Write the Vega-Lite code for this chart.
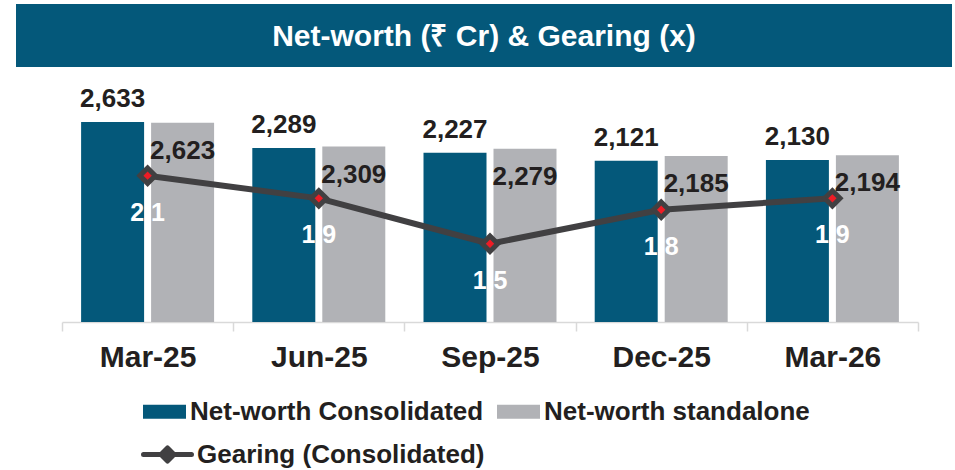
{
  "$schema": "https://vega.github.io/schema/vega-lite/v6.json",
  "padding": {"left": 16, "top": 4, "right": 0, "bottom": 0},
  "spacing": 27,
  "bounds": "flush",
  "config": {
    "font": "Liberation Sans",
    "view": {"stroke": null}
  },
  "datasets": {
    "nw": [
      {"q": "Mar-25", "series": "Net-worth Consolidated", "value": 2633},
      {"q": "Mar-25", "series": "Net-worth standalone", "value": 2623},
      {"q": "Jun-25", "series": "Net-worth Consolidated", "value": 2289},
      {"q": "Jun-25", "series": "Net-worth standalone", "value": 2309},
      {"q": "Sep-25", "series": "Net-worth Consolidated", "value": 2227},
      {"q": "Sep-25", "series": "Net-worth standalone", "value": 2279},
      {"q": "Dec-25", "series": "Net-worth Consolidated", "value": 2121},
      {"q": "Dec-25", "series": "Net-worth standalone", "value": 2185},
      {"q": "Mar-26", "series": "Net-worth Consolidated", "value": 2130},
      {"q": "Mar-26", "series": "Net-worth standalone", "value": 2194}
    ],
    "gear": [
      {"q": "Mar-25", "s": "Gearing (Consolidated)", "gearing": 2.1},
      {"q": "Jun-25", "s": "Gearing (Consolidated)", "gearing": 1.9},
      {"q": "Sep-25", "s": "Gearing (Consolidated)", "gearing": 1.5},
      {"q": "Dec-25", "s": "Gearing (Consolidated)", "gearing": 1.8},
      {"q": "Mar-26", "s": "Gearing (Consolidated)", "gearing": 1.9}
    ],
    "title": [{"t": "Net-worth (₹ Cr) & Gearing (x)"}]
  },
  "vconcat": [
    {
      "width": 936,
      "height": 63,
      "view": {"fill": "#04587a", "stroke": null},
      "data": {"name": "title"},
      "mark": {"type": "text", "color": "#ffffff", "fontSize": 30, "fontWeight": "bold", "baseline": "middle", "align": "center", "dy": 1},
      "encoding": {"text": {"field": "t", "type": "nominal"}}
    },
    {
      "width": 936,
      "height": 228,
      "encoding": {
        "x": {
          "field": "q",
          "type": "nominal",
          "sort": ["Mar-25", "Jun-25", "Sep-25", "Dec-25", "Mar-26"],
          "scale": {"domain": ["Mar-25", "Jun-25", "Sep-25", "Dec-25", "Mar-26"], "range": [46, 902], "paddingInner": 0, "paddingOuter": 0},
          "axis": {
            "title": null,
            "labelAngle": 0,
            "domainColor": "#d9d9d9",
            "domainWidth": 1.5,
            "tickColor": "#d9d9d9",
            "tickWidth": 1.5,
            "tickSize": 9,
            "tickBand": "extent",
            "labelFontSize": 30,
            "labelFontWeight": "bold",
            "labelColor": "#231f20",
            "labelPadding": 11
          }
        }
      },
      "layer": [
        {
          "data": {"name": "nw"},
          "encoding": {
            "xOffset": {"field": "series", "type": "nominal", "scale": {"domain": ["Net-worth Consolidated", "Net-worth standalone"], "paddingInner": 0.1, "paddingOuter": 0.273}},
            "y": {"field": "value", "type": "quantitative", "scale": {"domain": [0, 3000], "nice": false, "zero": true}, "axis": null}
          },
          "layer": [
            {
              "mark": {"type": "bar"},
              "encoding": {
                "color": {
                  "field": "series",
                  "type": "nominal",
                  "scale": {"domain": ["Net-worth Consolidated", "Net-worth standalone"], "range": ["#04587a", "#b1b2b6"]},
                  "legend": {
                    "title": null,
                    "orient": "none",
                    "legendX": 127,
                    "legendY": 386,
                    "direction": "horizontal",
                    "columns": 2,
                    "symbolType": "M-1,-0.33H1V0.33H-1Z",
                    "symbolSize": 1849,
                    "symbolStrokeWidth": 0,
                    "labelFontSize": 26,
                    "labelFontWeight": "bold",
                    "labelColor": "#231f20",
                    "labelOffset": 4,
                    "columnPadding": 13,
                    "labelLimit": 400
                  }
                }
              }
            },
            {
              "transform": [{"filter": "datum.series === 'Net-worth Consolidated'"}],
              "mark": {"type": "text", "fontSize": 26, "fontWeight": "bold", "color": "#231f20", "baseline": "alphabetic", "dy": -15},
              "encoding": {"text": {"field": "value", "type": "quantitative", "format": ",.0f"}}
            },
            {
              "transform": [{"filter": "datum.series === 'Net-worth standalone'"}],
              "mark": {"type": "text", "fontSize": 26, "fontWeight": "bold", "color": "#231f20", "baseline": "alphabetic", "dy": 36},
              "encoding": {"text": {"field": "value", "type": "quantitative", "format": ",.0f"}}
            }
          ]
        },
        {
          "data": {"name": "gear"},
          "encoding": {
            "y": {"field": "gearing", "type": "quantitative", "scale": {"domain": [0.81, 2.82], "nice": false, "zero": false}, "axis": null}
          },
          "layer": [
            {
              "mark": {"type": "line", "strokeWidth": 6, "strokeCap": "round", "strokeJoin": "round"},
              "encoding": {
                "stroke": {
                  "field": "s",
                  "type": "nominal",
                  "scale": {"range": ["#414042"]},
                  "legend": {
                    "title": null,
                    "orient": "none",
                    "legendX": 125,
                    "legendY": 424,
                    "symbolType": "M-1,0H1M0,-0.27L0.27,0L0,0.27L-0.27,0Z",
                    "symbolSize": 2304,
                    "symbolStrokeWidth": 5,
                    "labelFontSize": 26,
                    "labelFontWeight": "bold",
                    "labelColor": "#231f20",
                    "labelOffset": 3,
                    "labelLimit": 400,
                    "encode": {"symbols": {"update": {"fill": {"value": "#414042"}, "stroke": {"value": "#414042"}, "strokeWidth": {"value": 5}, "strokeCap": {"value": "round"}, "strokeJoin": {"value": "round"}}}}
                  }
                }
              }
            },
            {
              "mark": {"type": "point", "shape": "diamond", "size": 330, "filled": true, "color": "#414042", "stroke": "#414042", "strokeWidth": 3, "opacity": 1}
            },
            {
              "mark": {"type": "point", "shape": "diamond", "size": 70, "filled": true, "color": "#ee1c25", "opacity": 1}
            },
            {
              "mark": {"type": "text", "fontSize": 25, "fontWeight": "bold", "color": "#ffffff", "baseline": "alphabetic", "dy": 45},
              "encoding": {"text": {"field": "gearing", "type": "quantitative", "format": ".1f"}}
            }
          ]
        }
      ],
      "resolve": {"scale": {"y": "independent"}}
    }
  ]
}
